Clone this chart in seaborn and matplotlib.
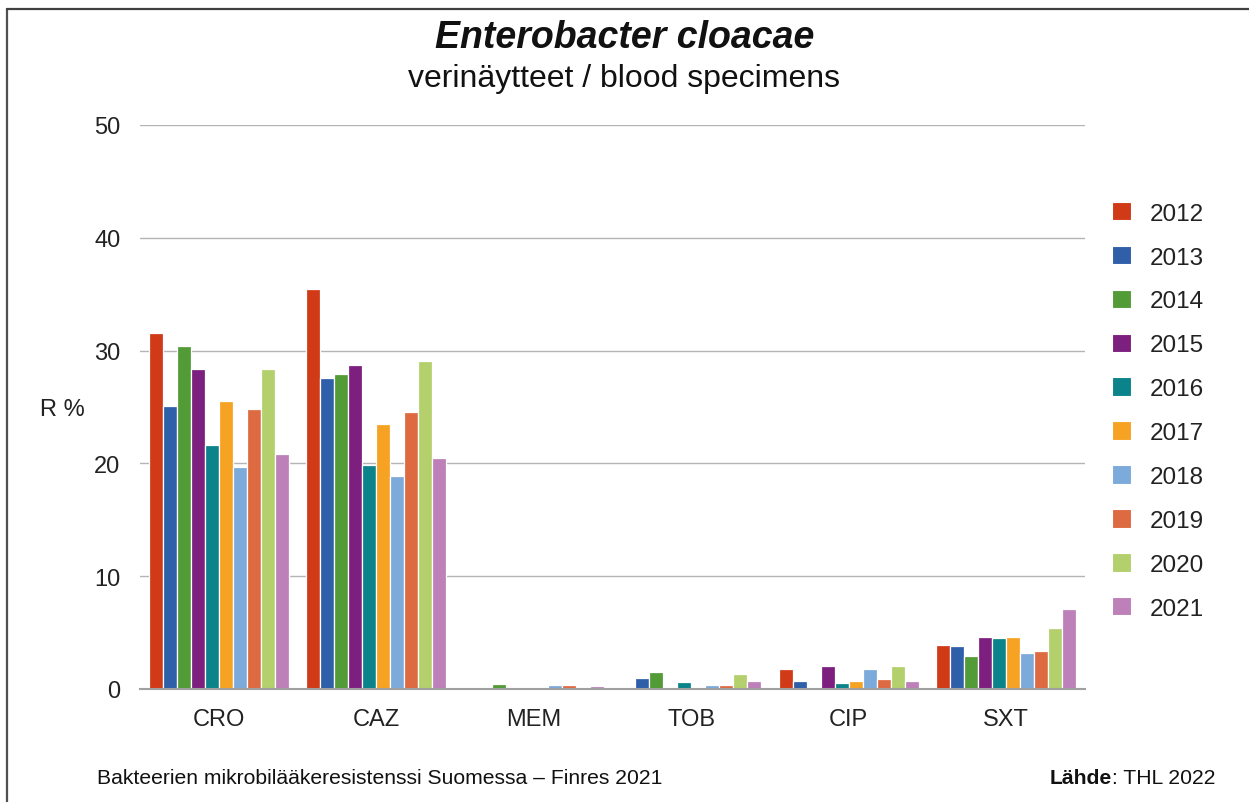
import matplotlib
matplotlib.use("Agg")
import matplotlib.pyplot as plt
from matplotlib.lines import Line2D
from matplotlib.patches import Patch
import seaborn as sns
import pandas as pd
import numpy as np

# Antibiotics and years
antibiotics = ["CRO", "CAZ", "MEM", "TOB", "CIP", "SXT"]
years = ["2012", "2013", "2014", "2015", "2016", "2017", "2018", "2019", "2020", "2021"]

# Resistance (R %) per antibiotic, one value per year 2012..2021
r_cro = [31.6, 25.1, 30.4, 28.4, 21.6, 25.5, 19.7, 24.8, 28.4, 20.8]
r_caz = [35.5, 27.6, 27.9, 28.7, 19.9, 23.5, 18.9, 24.6, 29.1, 20.5]
r_mem = [0.0, 0.0, 0.45, 0.0, 0.0, 0.0, 0.35, 0.35, 0.0, 0.25]
r_tob = [0.0, 0.95, 1.5, 0.0, 0.65, 0.0, 0.35, 0.35, 1.35, 0.75]
r_cip = [1.75, 0.75, 0.0, 2.05, 0.55, 0.7, 1.75, 0.85, 2.05, 0.7]
r_sxt = [3.9, 3.8, 2.95, 4.6, 4.5, 4.6, 3.15, 3.35, 5.45, 7.05]

year_colors = ["#D13A17", "#2F5FA8", "#539B37", "#7D1F7F", "#0A838A",
               "#F6A324", "#7BAADB", "#DE6A42", "#B3D06D", "#BD80B8"]

values = [r_cro, r_caz, r_mem, r_tob, r_cip, r_sxt]
rows = []
for ab, vals in zip(antibiotics, values):
    for yr, v in zip(years, vals):
        rows.append({"antibiotic": ab, "year": yr, "R": v})
df = pd.DataFrame(rows)

sns.set_theme(style="white")
plt.rcParams["font.family"] = ["Liberation Sans", "DejaVu Sans"]

W, H = 1249, 803
fig = plt.figure(figsize=(W / 100, H / 100), dpi=100)
ax = fig.add_axes([140 / W, 1 - 690 / H, (1085 - 140) / W, (690 - 126) / H])

sns.barplot(data=df, x="antibiotic", y="R", hue="year", order=antibiotics,
            hue_order=years, palette=year_colors, width=0.89, gap=0.0,
            edgecolor="white", linewidth=0.9, saturation=1, ax=ax,
            legend=False, errorbar=None)

ax.set_ylim(0, 50)
ax.set_xlim(-0.5, len(antibiotics) - 0.5)
ax.set_yticks([0, 10, 20, 30, 40, 50])
ax.yaxis.grid(True, color="#B4B4B4", linewidth=1.0)
ax.set_axisbelow(True)
ax.set_xlabel("")
ax.set_ylabel("")

for s in ["top", "right", "left"]:
    ax.spines[s].set_visible(False)
ax.spines["bottom"].set_color("#A0A0A0")
ax.spines["bottom"].set_linewidth(1.5)

ax.tick_params(axis="y", length=0, pad=14, labelsize=17, labelcolor="#222222")
ax.tick_params(axis="x", which="major", length=0, pad=14, labelsize=17,
               labelcolor="#222222")
ax.set_xticks(np.arange(-0.5, len(antibiotics)), minor=True)
ax.tick_params(axis="x", which="minor", length=8, width=1.5, color="#A0A0A0",
               direction="out")

# Legend
handles = [Patch(facecolor=c, edgecolor="white", linewidth=0.8) for c in year_colors]
leg = fig.legend(handles, years, loc="upper left",
                 bbox_to_anchor=(1090 / W, 1 - 181 / H), frameon=False,
                 fontsize=17.5, handlelength=0.8, handleheight=0.8,
                 handletextpad=0.75, labelspacing=0.87)
for t in leg.get_texts():
    t.set_color("#222222")

# Titles
fig.text(0.5, 1 - 38 / H, "Enterobacter cloacae", ha="center", va="center",
         fontsize=27, fontweight="bold", fontstyle="italic", color="#111111")
fig.text(0.5, 1 - 79 / H, "verinäytteet / blood specimens", ha="center",
         va="center", fontsize=23, color="#111111")

fig.text(40 / W, 1 - 410 / H, "R %", ha="left", va="center", fontsize=17,
         color="#222222")

# Footer
fig.text(97 / W, 1 - 779 / H, "Bakteerien mikrobilääkeresistenssi Suomessa – Finres 2021",
         ha="left", va="center", fontsize=15.2, color="#111111")
src = fig.text(1215 / W, 1 - 779 / H, ": THL 2022", ha="right", va="center",
               fontsize=15.2, color="#111111")
fig.canvas.draw()
bb = src.get_window_extent(renderer=fig.canvas.get_renderer())
fig.text(bb.x0 / W, 1 - 779 / H, "Lähde", ha="right", va="center",
         fontsize=15.2, fontweight="bold", color="#111111")

# Frame lines on the left and top edges
fig.add_artist(Line2D([6.5 / W, 6.5 / W], [0, 1 - 9.5 / H], transform=fig.transFigure,
                      color="#505050", linewidth=1.6))
fig.add_artist(Line2D([6.5 / W, 1], [1 - 9.5 / H, 1 - 9.5 / H], transform=fig.transFigure,
                      color="#404040", linewidth=1.6))

fig.savefig("out.png", dpi=100)
